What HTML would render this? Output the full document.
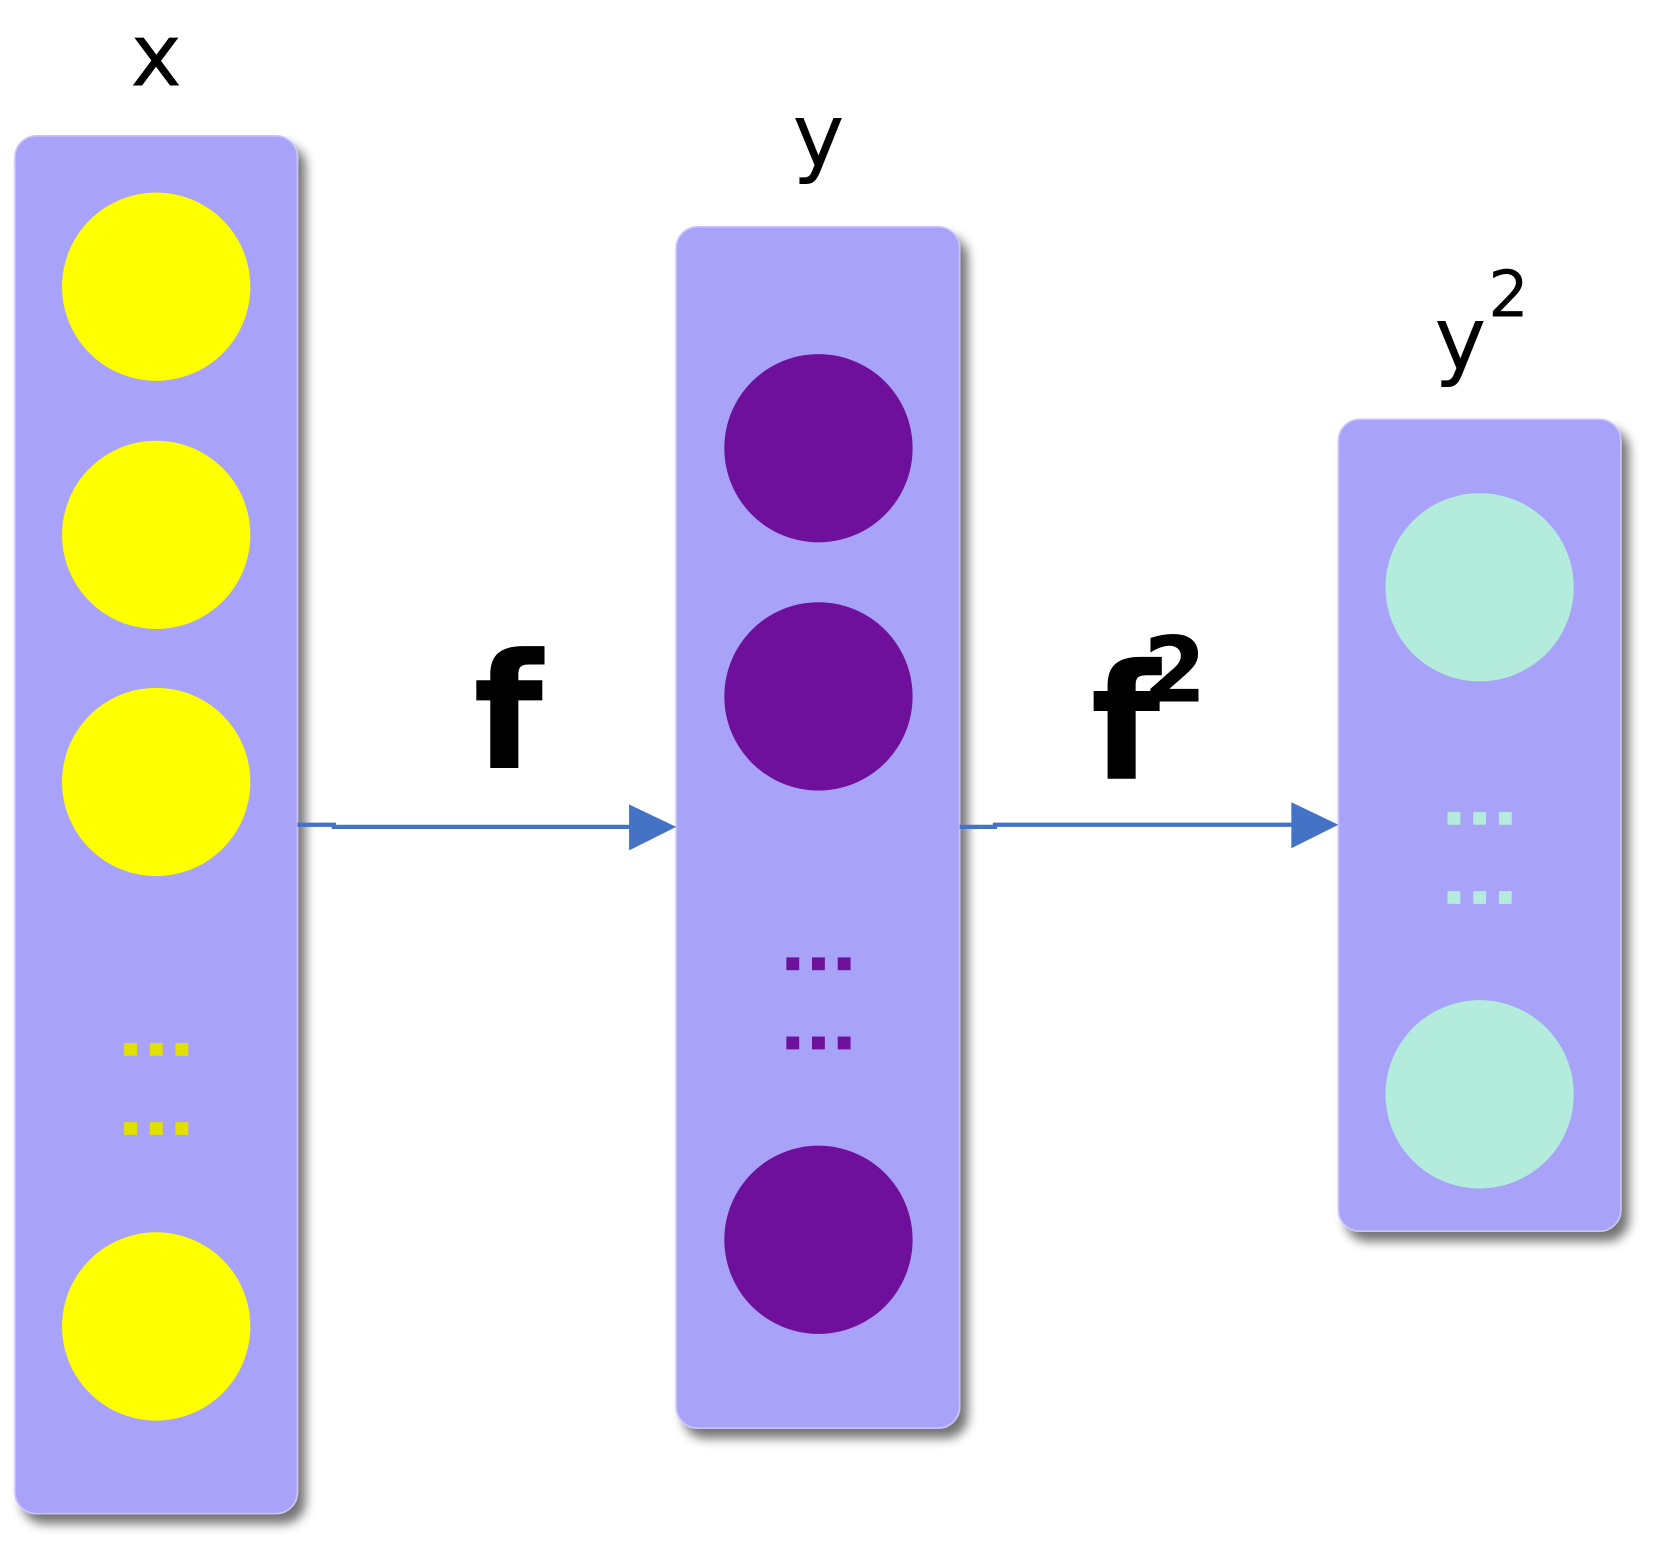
<!DOCTYPE html>
<html><head><meta charset="utf-8"><style>
html,body{margin:0;padding:0;background:#fff;width:1669px;height:1550px;overflow:hidden}
svg{display:block}
text{font-family:"DejaVu Sans","Liberation Sans",sans-serif;fill:#000}
</style></head><body>
<svg width="1669" height="1550" viewBox="0 0 1560 1449" preserveAspectRatio="none" xmlns="http://www.w3.org/2000/svg">
<defs>
<filter id="sh" x="-20%" y="-20%" width="150%" height="150%">
<feGaussianBlur in="SourceAlpha" stdDeviation="5"/>
<feOffset dx="7" dy="9"/>
<feComponentTransfer><feFuncA type="linear" slope="0.55"/></feComponentTransfer>
<feMerge><feMergeNode/><feMergeNode in="SourceGraphic"/></feMerge>
</filter>
</defs>
<!-- boxes -->
<rect x="14" y="127" width="264" height="1288" rx="20" fill="#a9a2f9" stroke="#c9c4fb" stroke-width="1.5" filter="url(#sh)"/>
<rect x="632" y="212" width="265" height="1123" rx="20" fill="#a9a2f9" stroke="#c9c4fb" stroke-width="1.5" filter="url(#sh)"/>
<rect x="1251" y="392" width="264" height="759" rx="20" fill="#a9a2f9" stroke="#c9c4fb" stroke-width="1.5" filter="url(#sh)"/>
<!-- yellow -->
<g fill="#ffff00">
<circle cx="146" cy="268" r="88"/><circle cx="146" cy="500" r="88"/>
<circle cx="146" cy="731" r="88"/><circle cx="146" cy="1240" r="88"/>
</g>
<g fill="#e1e000">
<rect x="116" y="975" width="12" height="12"/><rect x="140" y="975" width="12" height="12"/><rect x="164" y="975" width="12" height="12"/>
<rect x="116" y="1049" width="12" height="12"/><rect x="140" y="1049" width="12" height="12"/><rect x="164" y="1049" width="12" height="12"/>
</g>
<!-- purple -->
<g fill="#6e109c">
<circle cx="765" cy="419" r="88"/><circle cx="765" cy="651" r="88"/><circle cx="765" cy="1159" r="88"/>
<rect x="735" y="895" width="12" height="12"/><rect x="759" y="895" width="12" height="12"/><rect x="783" y="895" width="12" height="12"/>
<rect x="735" y="969" width="12" height="12"/><rect x="759" y="969" width="12" height="12"/><rect x="783" y="969" width="12" height="12"/>
</g>
<!-- mint -->
<g fill="#b3ecdc">
<circle cx="1383" cy="549" r="88"/><circle cx="1383" cy="1023" r="88"/>
<rect x="1353" y="759" width="12" height="12"/><rect x="1377" y="759" width="12" height="12"/><rect x="1401" y="759" width="12" height="12"/>
<rect x="1353" y="833" width="12" height="12"/><rect x="1377" y="833" width="12" height="12"/><rect x="1401" y="833" width="12" height="12"/>
</g>
<!-- arrows -->
<g stroke="#4472c4" stroke-width="4" fill="none">
<polyline points="278,771 312,771 312,773 592,773"/>
<polyline points="897,773 930,773 930,771 1210,771"/>
</g>
<polygon points="588,752 632,773 588,795" fill="#4472c4"/>
<polygon points="1207,750 1251,771 1207,793" fill="#4472c4"/>
<!-- labels -->
<text x="146" y="80" font-size="82" text-anchor="middle">x</text>
<text x="765" y="155" font-size="82" text-anchor="middle">y</text>
<text x="1365" y="345" font-size="82" text-anchor="middle">y</text>
<text x="1410" y="296" font-size="60" text-anchor="middle">2</text>
<text x="475" y="718" font-size="150" font-weight="bold" text-anchor="middle">f</text>
<text x="1052" y="728" font-size="150" font-weight="bold" text-anchor="middle">f</text>
<text x="1098" y="656" font-size="85" font-weight="bold" text-anchor="middle">2</text>
</svg>
</body></html>
